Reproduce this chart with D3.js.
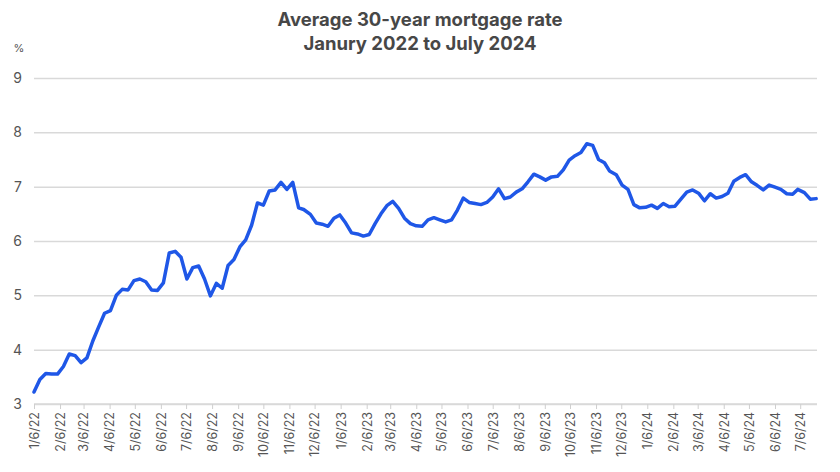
<!DOCTYPE html>
<html>
<head>
<meta charset="utf-8">
<script src="https://cdn.jsdelivr.net/npm/d3@7"></script>
<style>
  body { margin: 0; background: #fff; }
  svg text { font-family: Inter, "Noto Sans", sans-serif; }
</style>
</head>
<body>
<div id="chart"></div>
<script>
// weekly averages, Jan 2022 - Jul 2024
const weeks = [
  '2022-01-06','2022-01-13','2022-01-20','2022-01-27','2022-02-03','2022-02-10','2022-02-17','2022-02-24',
  '2022-03-03','2022-03-10','2022-03-17','2022-03-24','2022-03-31','2022-04-07','2022-04-14','2022-04-21',
  '2022-04-28','2022-05-05','2022-05-12','2022-05-19','2022-05-26','2022-06-02','2022-06-09','2022-06-16',
  '2022-06-23','2022-06-30','2022-07-07','2022-07-14','2022-07-21','2022-07-28','2022-08-04','2022-08-11',
  '2022-08-18','2022-08-25','2022-09-01','2022-09-08','2022-09-15','2022-09-22','2022-09-29','2022-10-06',
  '2022-10-13','2022-10-20','2022-10-27','2022-11-03','2022-11-10','2022-11-17','2022-11-23','2022-12-01',
  '2022-12-08','2022-12-15','2022-12-22','2022-12-29',
  '2023-01-05','2023-01-12','2023-01-19','2023-01-26','2023-02-02','2023-02-09','2023-02-16','2023-02-23',
  '2023-03-02','2023-03-09','2023-03-16','2023-03-23','2023-03-30','2023-04-06','2023-04-13','2023-04-20',
  '2023-04-27','2023-05-04','2023-05-11','2023-05-18','2023-05-25','2023-06-01','2023-06-08','2023-06-15',
  '2023-06-22','2023-06-29','2023-07-06','2023-07-13','2023-07-20','2023-07-27','2023-08-03','2023-08-10',
  '2023-08-17','2023-08-24','2023-08-31','2023-09-07','2023-09-14','2023-09-21','2023-09-28','2023-10-05',
  '2023-10-12','2023-10-19','2023-10-26','2023-11-02','2023-11-09','2023-11-16','2023-11-22','2023-11-30',
  '2023-12-07','2023-12-14','2023-12-21','2023-12-28',
  '2024-01-04','2024-01-11','2024-01-18','2024-01-25','2024-02-01','2024-02-08','2024-02-15','2024-02-22',
  '2024-02-29','2024-03-07','2024-03-14','2024-03-21','2024-03-28','2024-04-04','2024-04-11','2024-04-18',
  '2024-04-25','2024-05-02','2024-05-09','2024-05-16','2024-05-23','2024-05-30','2024-06-06','2024-06-13',
  '2024-06-20','2024-06-27','2024-07-03','2024-07-11','2024-07-18','2024-07-25'
];
const rates = [
  3.22,3.45,3.56,3.55,3.55,3.69,3.92,3.89,
  3.76,3.85,4.16,4.42,4.67,4.72,5.00,5.11,
  5.10,5.27,5.30,5.25,5.10,5.09,5.23,5.78,
  5.81,5.70,5.30,5.51,5.54,5.30,4.99,5.22,
  5.13,5.55,5.66,5.89,6.02,6.29,6.70,6.66,
  6.92,6.94,7.08,6.95,7.08,6.61,6.58,6.49,
  6.33,6.31,6.27,6.42,
  6.48,6.33,6.15,6.13,6.09,6.12,6.32,6.50,
  6.65,6.73,6.60,6.42,6.32,6.28,6.27,6.39,
  6.43,6.39,6.35,6.39,6.57,6.79,6.71,6.69,
  6.67,6.71,6.81,6.96,6.78,6.81,6.90,6.96,
  7.09,7.23,7.18,7.12,7.18,7.19,7.31,7.49,
  7.57,7.63,7.79,7.76,7.50,7.44,7.29,7.22,
  7.03,6.95,6.67,6.61,
  6.62,6.66,6.60,6.69,6.63,6.64,6.77,6.90,
  6.94,6.88,6.74,6.87,6.79,6.82,6.88,7.10,
  7.17,7.22,7.09,7.02,6.94,7.03,6.99,6.95,
  6.87,6.86,6.95,6.89,6.77,6.78
];
const tickDates = [
  '2022-01-06','2022-02-06','2022-03-06','2022-04-06','2022-05-06','2022-06-06','2022-07-06','2022-08-06',
  '2022-09-06','2022-10-06','2022-11-06','2022-12-06','2023-01-06','2023-02-06','2023-03-06','2023-04-06',
  '2023-05-06','2023-06-06','2023-07-06','2023-08-06','2023-09-06','2023-10-06','2023-11-06','2023-12-06',
  '2024-01-06','2024-02-06','2024-03-06','2024-04-06','2024-05-06','2024-06-06','2024-07-06'
];
const yTicks = [3, 4, 5, 6, 7, 8, 9];

const w = 840;
const h = 472;
const padL = 34, padR = 817, padT = 78, padB = 404;

const parse = d3.timeParse('%Y-%m-%d');
const data = weeks.map((d, i) => ({ date: parse(d), rate: rates[i] }));

const svg = d3.select('#chart')
  .append('svg')
  .attr('width', w)
  .attr('height', h);

const x = d3.scaleTime()
  .domain([parse(weeks[0]), parse('2024-07-26')])
  .range([padL, padR]);

const y = d3.scaleLinear()
  .domain([3, 9])
  .range([padB, padT]);

// title
svg.append('text')
  .attr('x', 420).attr('y', 26)
  .attr('text-anchor', 'middle')
  .attr('font-size', 18.5).attr('font-weight', 700)
  .attr('fill', '#474747')
  .text('Average 30-year mortgage rate');
svg.append('text')
  .attr('x', 420).attr('y', 50)
  .attr('text-anchor', 'middle')
  .attr('font-size', 18.5).attr('font-weight', 700)
  .attr('fill', '#474747')
  .text('Janury 2022 to July 2024');

svg.append('text')
  .attr('x', 19).attr('y', 52)
  .attr('text-anchor', 'middle')
  .attr('font-size', 11)
  .attr('fill', '#555')
  .text('%');

// y grid + labels
const yAxis = svg.append('g')
  .attr('transform', 'translate(' + padL + ',0)')
  .call(d3.axisLeft(y).tickValues(yTicks).tickSize(-(padR - padL)).tickPadding(12).tickFormat(d3.format('d')));
yAxis.select('.domain').remove();
yAxis.selectAll('.tick line').attr('stroke', '#d9d9d9').attr('stroke-width', 1.5);
yAxis.selectAll('.tick text').attr('fill', '#555').attr('font-size', 14);

// x axis
const xAxis = svg.append('g')
  .attr('transform', 'translate(0,' + padB + ')')
  .call(d3.axisBottom(x)
    .tickValues(tickDates.map(parse))
    .tickSize(5)
    .tickFormat(d3.timeFormat('%-m/%-d/%y')));
xAxis.select('.domain').attr('stroke', '#d9d9d9').attr('stroke-width', 1.5)
  .attr('d', 'M' + padL + ',0H' + padR);
xAxis.selectAll('.tick line').attr('stroke', '#cfcfcf');
xAxis.selectAll('.tick text')
  .attr('fill', '#555')
  .attr('font-size', 12.5)
  .attr('text-anchor', 'end')
  .attr('transform', 'rotate(-90)')
  .attr('x', -8)
  .attr('y', 0)
  .attr('dy', '0.35em');

// line
const line = d3.line()
  .x(d => x(d.date))
  .y(d => y(d.rate));

svg.append('path')
  .datum(data)
  .attr('fill', 'none')
  .attr('stroke', '#1f57e7')
  .attr('stroke-width', 3.5)
  .attr('stroke-linejoin', 'round')
  .attr('stroke-linecap', 'round')
  .attr('d', line);
</script>
</body>
</html>
